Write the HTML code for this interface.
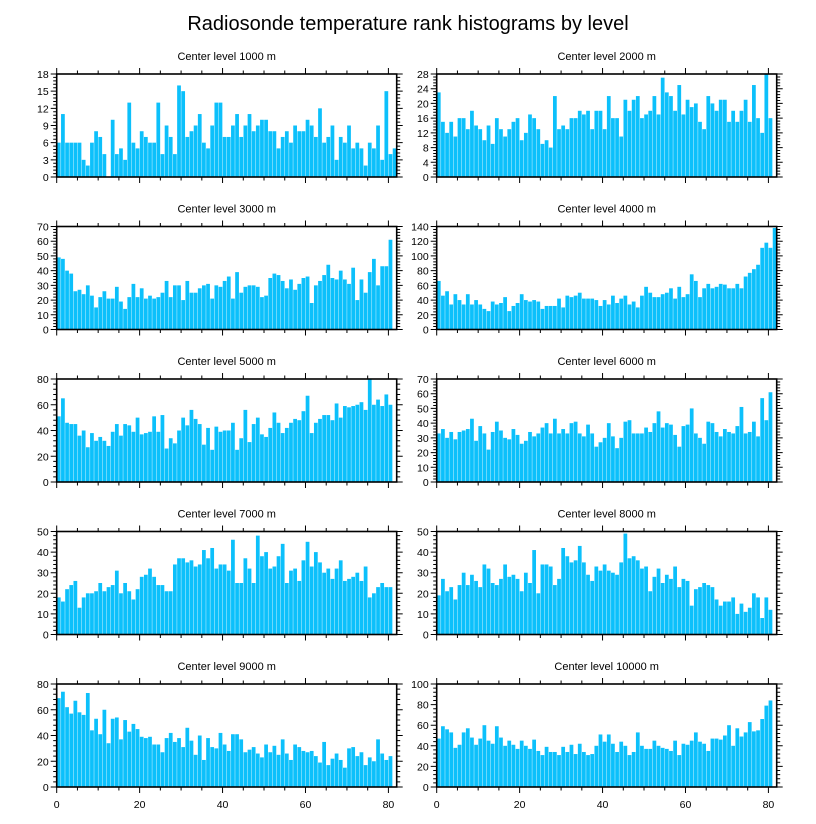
<!DOCTYPE html>
<html><head><meta charset="utf-8"><style>
html,body{margin:0;padding:0;background:#fff;}
svg{display:block;font-family:"Liberation Sans",sans-serif;}
</style></head><body>
<svg id="chart" width="816" height="824" viewBox="0 0 816 824">
<text x="408" y="30" text-anchor="middle" font-size="20">Radiosonde temperature rank histograms by level</text>
</svg>
<script>
const levels = ["1000","2000","3000","4000","5000","6000","7000","8000","9000","10000"];
const yMaxes = [18,28,70,140,80,70,50,50,80,100];
const ySteps = [3,4,10,20,20,10,10,10,20,20];
const xTicks = [0,20,40,60,80];
const h1000 = [6,11,6,6,6,6,3,2,6,8,7,4,0,10,4,5,3,13,6,5,8,7,6,6,13,4,9,7,4,16,15,7,8,9,11,6,5,9,13,13,7,7,9,11,7,9,11,8,9,10,10,8,8,5,7,8,6,9,8,8,10,9,7,12,6,7,9,3,7,6,9,5,6,5,2,6,5,9,3,15,4,5];
const h2000 = [23,15,12,15,11,16,16,13,18,14,13,10,14,9,16,13,11,13,15,16,10,12,17,16,13,9,10,8,22,13,14,13,16,16,18,17,18,13,18,18,13,22,16,16,11,21,18,21,22,16,17,18,22,17,27,23,22,18,25,17,21,19,20,15,13,22,20,18,21,21,15,18,15,18,21,15,25,16,12,28,16];
const h3000 = [49,48,40,38,26,27,24,30,23,15,22,26,21,21,29,19,14,22,31,22,28,21,23,21,22,25,33,22,30,30,20,33,25,25,28,30,31,21,30,29,33,36,21,39,25,29,30,30,29,22,23,35,38,37,33,28,34,27,31,35,36,18,30,33,37,44,35,34,40,34,31,42,20,34,25,39,48,30,43,43,61];
const h4000 = [66,46,52,34,48,40,34,48,34,40,34,28,25,38,34,36,44,25,32,36,48,40,38,40,38,28,32,32,32,42,30,46,44,46,50,42,42,42,40,32,40,34,46,36,42,46,34,38,30,46,58,50,44,44,48,50,56,42,58,44,48,75,66,44,56,62,56,58,62,61,56,56,62,56,72,77,82,88,111,118,111,138];
const h5000 = [51,65,46,45,45,36,40,27,38,32,35,32,28,39,45,36,45,44,39,50,37,38,39,51,39,52,26,34,30,40,50,44,56,49,45,29,42,25,43,39,40,40,46,25,34,56,31,45,50,37,35,42,54,46,38,42,46,49,48,55,67,38,46,49,52,52,48,61,50,59,58,59,60,62,56,80,60,64,59,68,60];
const h6000 = [33,36,30,34,29,34,35,36,43,28,38,33,22,34,41,35,30,29,36,32,26,28,34,31,33,37,40,33,43,33,36,33,40,41,33,31,39,33,24,27,30,40,31,23,30,41,42,33,33,33,37,34,40,48,37,40,39,32,24,38,39,50,33,30,26,41,40,34,31,36,34,33,38,51,33,34,41,31,57,42,61];
const h7000 = [18,16,22,24,26,13,18,20,20,21,25,21,23,24,31,20,25,21,17,22,28,29,32,28,24,24,21,21,34,37,37,35,36,33,34,41,37,42,32,34,34,31,46,25,25,37,32,25,48,38,40,32,33,38,44,25,31,32,26,36,45,33,40,35,30,32,27,32,36,26,27,28,30,26,33,18,20,23,25,23,23];
const h8000 = [19,27,21,23,17,24,30,24,29,26,23,34,32,25,24,27,34,28,29,27,21,30,25,41,20,34,34,33,24,27,42,38,35,36,43,35,29,26,33,31,34,31,30,29,35,49,37,38,36,32,33,21,28,32,25,29,27,33,23,27,26,14,22,23,25,24,23,17,14,16,16,18,10,15,11,13,20,18,8,18,12];
const h9000 = [69,74,62,57,67,58,56,73,44,53,41,60,34,53,54,37,52,43,49,45,39,38,39,33,33,27,38,42,35,38,31,46,36,25,40,21,38,31,30,42,33,28,41,41,37,27,29,31,26,23,33,27,32,25,37,26,21,33,31,28,27,28,24,19,35,17,22,26,21,15,30,31,24,27,17,23,20,37,26,21,24];
const h10000 = [47,59,56,53,38,41,53,57,48,41,47,60,45,42,59,48,40,45,41,37,45,40,37,46,35,31,39,34,34,31,39,34,41,32,42,34,31,32,40,51,44,51,42,34,44,40,31,34,53,40,37,37,45,40,38,37,35,45,31,42,41,45,53,44,42,35,47,47,46,50,60,40,57,49,53,63,54,55,66,79,84];
const series = [h1000,h2000,h3000,h4000,h5000,h6000,h7000,h8000,h9000,h10000];

const NS = "http://www.w3.org/2000/svg";
const svg = document.getElementById("chart");
function mk(tag, attrs, parent){
  const e = document.createElementNS(NS, tag);
  for (const k in attrs) e.setAttribute(k, attrs[k]);
  parent.appendChild(e); return e;
}
const XMAX = 82, PW = 340, PH = 103;
for (let p = 0; p < 10; p++) {
  const col = p % 2, row = Math.floor(p / 2);
  const left = col ? 436.7 : 56.7, top = 74 + row * 152.5;
  const g = mk("g", {}, svg);
  
  
  const xs = v => left + v / XMAX * PW;
  const ys = v => top + PH - v / yMaxes[p] * PH;
  const t = mk("text", {x: left + PW/2, y: top - 14, "text-anchor":"middle", "font-size":"11"}, g);
  
  
  t.textContent = "Center level " + levels[p] + " m";
  series[p].forEach((v, i) => {
    const r = mk("rect", {x: xs(i) + 0.2, y: ys(v), width: Math.max(0, xs(i+1) - xs(i) - 0.4), height: ys(0) - ys(v), fill:"#0cc0fb"}, g);
    
    
  });
  const f = mk("rect", {x:left, y:top, width:PW, height:PH, fill:"none", stroke:"#000", "stroke-width":"1.6"}, g);
  
  
  let d = "";
  for (let xv = 0; xv <= 80; xv += 5) {
    const x = xs(xv), major = xv % 20 === 0, L = major ? 6 : 3.5;
    d += `M${x} ${top+PH}V${top+PH+L}M${x} ${top}V${top-L}`;
  }
  const ym = yMaxes[p], st = ySteps[p], minor = st / 5;
  for (let yv = 0; yv <= ym + 1e-9; yv += minor) {
    const y = ys(yv), isMaj = Math.abs(yv / st - Math.round(yv / st)) < 1e-6, L = isMaj ? 6 : 3.5;
    d += `M${left} ${y}H${left-L}M${left+PW} ${y}H${left+PW+L}`;
  }
  const tk = mk("path", {d, stroke:"#000", "stroke-width":"1", fill:"none"}, g);
  
  
  for (let yv = 0; yv <= ym + 1e-9; yv += st) {
    const l = mk("text", {x:left - 8, y: ys(yv) + 4, "text-anchor":"end", "font-size":"10.5"}, g);
    
    
    l.textContent = yv;
  }
  if (row === 4) {
    xTicks.forEach(xv => {
      const l = mk("text", {x: xs(xv), y: top + PH + 21, "text-anchor":"middle", "font-size":"10.5"}, g);
      
      
      l.textContent = xv;
    });
  }
}
</script>
</body></html>
